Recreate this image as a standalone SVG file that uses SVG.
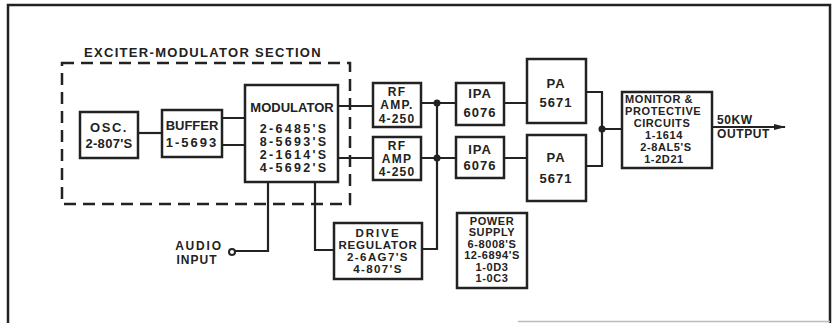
<svg xmlns="http://www.w3.org/2000/svg" width="837" height="323" viewBox="0 0 837 323">
<style>
.b{fill:none;stroke:#222;stroke-width:2.5}
.w{fill:#fff;stroke:#222;stroke-width:2.5}
.c{fill:none;stroke:#222;stroke-width:2.2}
.d{fill:#222}
text{font-family:"Liberation Sans",Arial,sans-serif;font-weight:bold;fill:#222;text-anchor:middle}
.t11{font-size:11px;letter-spacing:0.6px}
.t12{font-size:12px;letter-spacing:0.6px}
.t13{font-size:13px;letter-spacing:1px}
.r{font-size:12px;letter-spacing:1.2px}
.t14{font-size:12.5px;letter-spacing:2.3px}
.l{text-anchor:start}
</style>
<defs>
<marker id="arr" markerWidth="12" markerHeight="8" refX="11" refY="4" orient="auto" markerUnits="userSpaceOnUse">
<path d="M0,1 L12,4 L0,7 Z" fill="#222"/>
</marker>
</defs>
<rect width="837" height="323" fill="#fff"/>
<g id="frame">
<path d="M8,323 V5 H830 V323" class="b"/>
<path d="M518,321.5 H830" stroke="#bbb" stroke-width="1.5" fill="none"/>
</g>
<g id="section">
<rect x="62" y="63" width="288" height="141" fill="none" stroke="#222" stroke-width="2.5" stroke-dasharray="12,7"/>
<text x="203" y="57" style="font-size:13px;letter-spacing:1.3px">EXCITER-MODULATOR SECTION</text>
</g>
<g id="connectors">
<path d="M138,133 H162" class="c"/>
<path d="M222,118 H245 M222,145 H245" class="c"/>
<path d="M338,106 H373 M338,158 H373" class="c"/>
<path d="M421,103 H456 M421,158 H456" class="c"/>
<path d="M437,103 V249 H422" class="c"/>
<path d="M315,182 V250 H334" class="c"/>
<path d="M268,182 V251 H235" class="c"/>
<circle cx="232" cy="252" r="3" fill="#fff" stroke="#222" stroke-width="2"/>
<path d="M504,103 H527 M504,158 H527" class="c"/>
<path d="M586,92 H602 V166 H586 M602,129 H622" class="c"/>
<path d="M712,127 H785" class="c" marker-end="url(#arr)"/>
<circle cx="437" cy="103" r="3.5" class="d"/>
<circle cx="437" cy="158" r="3.5" class="d"/>
<circle cx="602" cy="129" r="3.5" class="d"/>
</g>
<g id="osc">
<rect x="80" y="112" width="58" height="46" class="w"/>
<text x="109" y="132" style="font-size:13px;letter-spacing:1.5px">OSC.</text>
<text x="109" y="148" style="font-size:13px;letter-spacing:0.3px">2-807'S</text>
</g>
<g id="buffer">
<rect x="162" y="110" width="60" height="47" class="w"/>
<text x="192" y="130" style="font-size:13px;letter-spacing:0px">BUFFER</text>
<text x="192" y="147" style="font-size:13px;letter-spacing:2px">1-5693</text>
</g>
<g id="modulator">
<rect x="245" y="85" width="93" height="97" class="w"/>
<text x="292" y="112" style="font-size:13px;letter-spacing:0px">MODULATOR</text>
<text x="294" y="133" class="t14">2-6485'S</text>
<text x="294" y="146" class="t14">8-5693'S</text>
<text x="294" y="159" class="t14">2-1614'S</text>
<text x="294" y="172" class="t14">4-5692'S</text>
</g>
<g id="rfamp1">
<rect x="373" y="83" width="48" height="44" class="w"/>
<text x="397" y="96" class="r">RF</text>
<text x="397" y="109" class="r">AMP.</text>
<text x="397" y="122.5" class="r">4-250</text>
</g>
<g id="rfamp2">
<rect x="373" y="137" width="48" height="43" class="w"/>
<text x="397" y="150" class="r">RF</text>
<text x="397" y="163" class="r">AMP</text>
<text x="397" y="176" class="r">4-250</text>
</g>
<g id="ipa1">
<rect x="456" y="83" width="48" height="42" class="w"/>
<text x="480" y="98" class="t13">IPA</text>
<text x="480" y="117" class="t13">6076</text>
</g>
<g id="ipa2">
<rect x="456" y="137" width="48" height="41" class="w"/>
<text x="480" y="154" class="t13">IPA</text>
<text x="480" y="170" class="t13">6076</text>
</g>
<g id="pa1">
<rect x="527" y="59" width="59" height="64" class="w"/>
<text x="556" y="88" class="t13">PA</text>
<text x="556" y="107" class="t13">5671</text>
</g>
<g id="pa2">
<rect x="527" y="135" width="59" height="66" class="w"/>
<text x="556" y="162" class="t13">PA</text>
<text x="556" y="183" class="t13">5671</text>
</g>
<g id="monitor">
<rect x="622" y="92" width="90" height="76" class="w"/>
<text x="625" y="102.5" class="t11 l">MONITOR &amp;</text>
<text x="625" y="114.5" class="t11 l">PROTECTIVE</text>
<text x="662" y="126.5" class="t11">CIRCUITS</text>
<text x="664" y="138.5" class="t11">1-1614</text>
<text x="666" y="150.5" class="t11">2-8AL5'S</text>
<text x="664" y="162.5" class="t11">1-2D21</text>
</g>
<g id="output">
<text x="717" y="124" class="t12 l">50KW</text>
<text x="717" y="138" class="t12 l">OUTPUT</text>
</g>
<g id="audio">
<text x="199" y="250" style="font-size:12px;letter-spacing:1.8px">AUDIO</text>
<text x="197" y="264" style="font-size:12px;letter-spacing:1px">INPUT</text>
</g>
<g id="drive">
<rect x="334" y="223" width="88" height="56" class="w"/>
<text x="378" y="237" style="font-size:11.5px;letter-spacing:2px">DRIVE</text>
<text x="378" y="249" style="font-size:11.5px;letter-spacing:0.8px">REGULATOR</text>
<text x="378" y="261" style="font-size:11.5px;letter-spacing:1.4px">2-6AG7'S</text>
<text x="378" y="273" style="font-size:11.5px;letter-spacing:1.4px">4-807'S</text>
</g>
<g id="power">
<rect x="457" y="213" width="70" height="75" class="w"/>
<text x="492" y="224.5" class="t11">POWER</text>
<text x="492" y="236" class="t11">SUPPLY</text>
<text x="492" y="247.5" class="t11">6-8008'S</text>
<text x="492" y="259" class="t11">12-6894'S</text>
<text x="492" y="270.5" class="t11">1-0D3</text>
<text x="492" y="282" class="t11">1-0C3</text>
</g>
</svg>
